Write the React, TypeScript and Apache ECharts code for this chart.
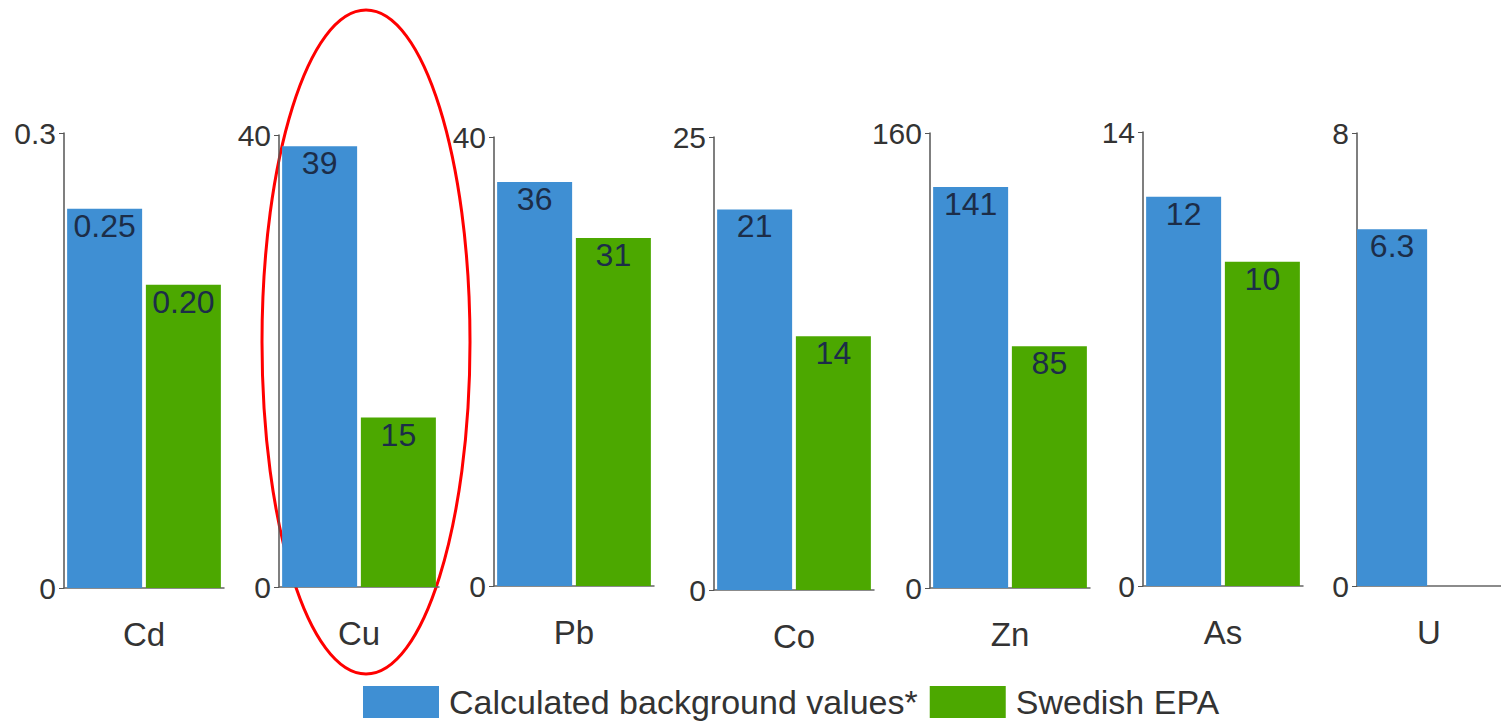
import React, { useEffect, useRef } from "react";
import * as echarts from "echarts";

const categories = ["Cd", "Cu", "Pb", "Co", "Zn", "As", "U"];
const backgroundValues = [0.25, 39, 36, 21, 141, 12, 6.3];
const swedishEpa: (number | null)[] = [0.2, 15, 31, 14, 85, 10, null];
const axisMax = [0.3, 40, 40, 25, 160, 14, 8];
const decimals = [2, 0, 0, 0, 0, 0, 1];
const seriesNames = ["Calculated background values*", "Swedish EPA"];

// layout of each small panel (pixels)
const panelLeft = [64, 279, 494, 714, 930, 1143, 1357];
const panelTop = [133, 135, 137, 137, 133, 132, 133];
const panelBottom = [588, 587, 586, 590, 588, 586, 586];
const panelWidth = 160;

const BLUE = "#3f8fd3";
const GREEN = "#4ca800";
const FONT = "'Liberation Sans', Arial, Helvetica, sans-serif";

export default function App() {
  const ref = useRef<HTMLDivElement>(null);
  useEffect(() => {
    if (!ref.current) return;
    const chart = echarts.init(ref.current, undefined, { renderer: "svg" });
    const grid: any[] = [];
    const xAxis: any[] = [];
    const yAxis: any[] = [];
    const series: any[] = [];
    categories.forEach((cat, i) => {
      grid.push({
        left: panelLeft[i],
        top: panelTop[i],
        width: panelWidth,
        height: panelBottom[i] - panelTop[i],
      });
      xAxis.push({
        type: "category",
        gridIndex: i,
        data: [cat],
        axisLine: { lineStyle: { color: "#666", width: 1.5 } },
        axisTick: { show: false },
        axisLabel: { fontSize: 33, color: "#333", margin: 30, fontFamily: FONT },
      });
      yAxis.push({
        type: "value",
        gridIndex: i,
        min: 0,
        max: axisMax[i],
        interval: axisMax[i],
        splitLine: { show: false },
        axisLine: { show: true, lineStyle: { color: "#555", width: 1.5 } },
        axisTick: { show: true, length: 5, lineStyle: { color: "#555" } },
        axisLabel: { fontSize: 30, color: "#333", margin: 8, fontFamily: FONT },
      });
      const fmt = (p: any) => Number(p.value).toFixed(decimals[i]);
      const label = {
        show: true,
        position: "insideTop",
        distance: 1,
        fontSize: 32,
        color: "#1c2d48",
        fontFamily: FONT,
        formatter: fmt,
      };
      series.push({
        type: "bar",
        name: seriesNames[0],
        xAxisIndex: i,
        yAxisIndex: i,
        data: [backgroundValues[i]],
        barWidth: 75,
        barGap: "5%",
        itemStyle: { color: BLUE },
        label,
      });
      series.push({
        type: "bar",
        name: seriesNames[1],
        xAxisIndex: i,
        yAxisIndex: i,
        data: [swedishEpa[i] === null ? "-" : swedishEpa[i]],
        barWidth: 75,
        barGap: "5%",
        itemStyle: { color: GREEN },
        label,
      });
    });
    chart.setOption({
      animation: false,
      backgroundColor: "#ffffff",
      textStyle: { fontFamily: FONT },
      grid,
      xAxis,
      yAxis,
      series,
      legend: {
        data: seriesNames,
        left: 363,
        top: 685,
        itemWidth: 76,
        itemHeight: 32,
        itemGap: 12,
        icon: "rect",
        padding: 0,
        textStyle: { fontSize: 34, color: "#333", fontFamily: FONT, padding: [0, 0, 0, 5] },
      },
      graphic: [
        {
          type: "ellipse",
          shape: { cx: 366, cy: 342, rx: 104, ry: 332 },
          style: { fill: "none", stroke: "#ff0000", lineWidth: 3 },
          silent: true,
        },
      ],
    });
    return () => chart.dispose();
  }, []);
  return (
    <div
      ref={ref}
      style={{ position: "fixed", left: 0, top: 0, width: 1501, height: 721, background: "#fff" }}
    />
  );
}
